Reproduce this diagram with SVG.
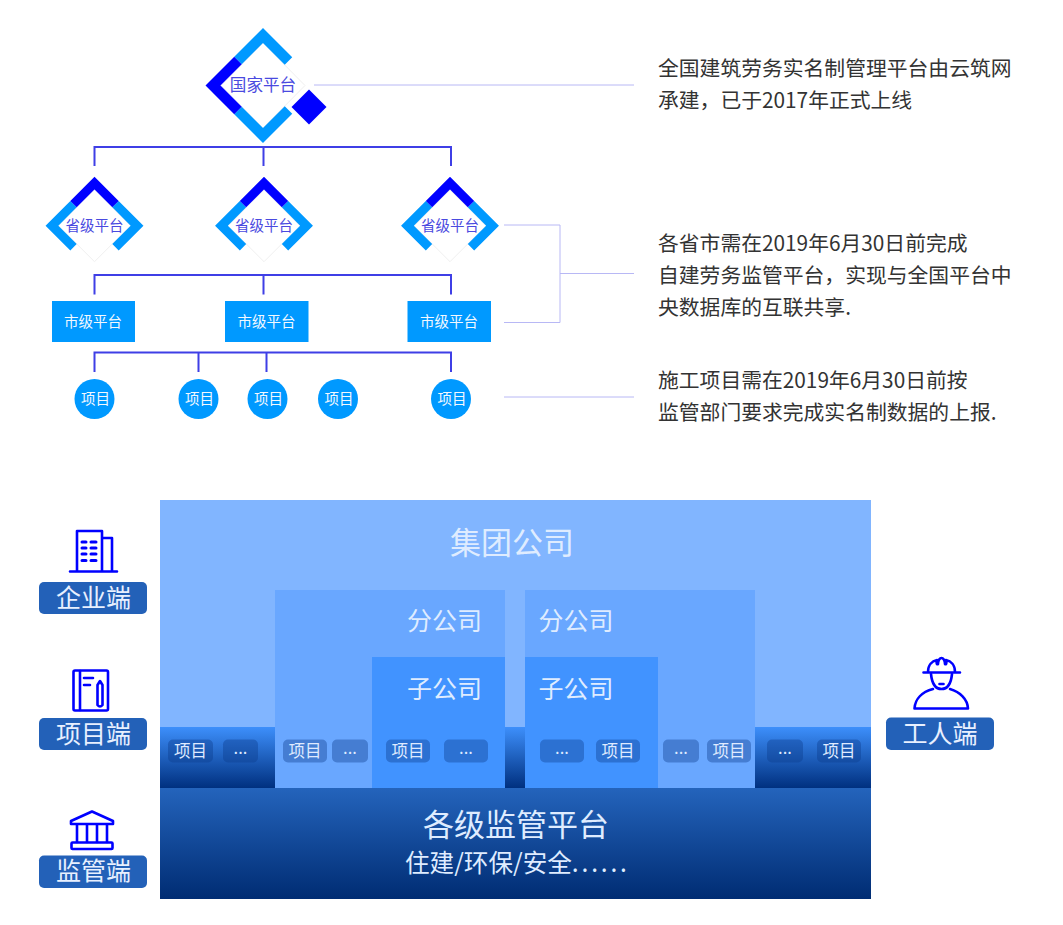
<svg xmlns="http://www.w3.org/2000/svg" width="1063" height="925" viewBox="0 0 1063 925">
<style>
text{font-family:"Noto Sans CJK SC","Noto Sans",sans-serif;text-anchor:middle}
.tree{fill:none;stroke:#3f3fe6;stroke-width:2}
.guide{fill:none;stroke:#b8b8f5;stroke-width:1}
.cy{fill:none;stroke:#0099ff}
.dk{fill:none;stroke:#0000ff}
.fnt{fill:#fff;stroke:#efefef;stroke-width:1}
.nl{fill:#4a4ae0}
.wt{fill:#f2f8ff}
.box{fill:#0099ff}
.note{fill:#333;font-size:20.800px;text-anchor:start}
.pill{fill:#0a3a8a;fill-opacity:.38}
.pt{fill:#dfeaff;font-size:16.500px}
.big{fill:#dfecff}
.lab{fill:#2361b8}
.lt{fill:#e8f0ff;font-size:25px}
.ic{fill:none;stroke:#0000ff;stroke-width:2.600;stroke-linejoin:round;stroke-linecap:round}
</style>
<defs>
<linearGradient id="band" x1="0" y1="0" x2="0" y2="1"><stop offset="0" stop-color="#3d8ffb"/><stop offset="1" stop-color="#00307f"/></linearGradient>
<linearGradient id="base" x1="0" y1="0" x2="0" y2="1"><stop offset="0" stop-color="#2464bc"/><stop offset="1" stop-color="#002c73"/></linearGradient>
</defs>
<rect width="1063" height="925" fill="#fff"/>

<g id="connectors">
<path class="tree" d="M94.500 166V147H451V166M263.500 147V166"/>
<path class="tree" d="M94.500 294.500V275H451V294.500M263.500 275V294.500"/>
<path class="tree" d="M94.500 372V352.500H451V372M198.500 352.500V372M266.500 352.500V372"/>
<path class="guide" d="M314 85H634"/>
<path class="guide" d="M504 225H560V322.500H504M560 273.500H634"/>
<path class="guide" d="M504 397H634"/>
</g>

<g id="national">
<path class="fnt" d="M263 43 305 85.500 263 128 221 85.500Z"/>
<path class="cy" stroke-width="10.600" d="M238 60.500 263 35.500 288.500 61M238 110.500 263 135.500 288.500 110"/>
<path class="dk" stroke-width="10.600" d="M238 60.500 213 85.500 238 110.500"/>
<path d="M309 89.500 326.500 107 309 124.500 291.500 107Z" fill="#0000ff"/>
<text class="nl" x="263" y="91" font-size="16.600">国家平台</text>
</g>

<g id="prov1" transform="translate(94.500 225.700)">
<path class="fnt" d="M0-36 36 0 0 36-36 0Z"/>
<path class="cy" stroke-width="9" d="M-21-21.600-42.600 0-21 21.600M21-21.600 42.600 0 21 21.600"/>
<path class="dk" stroke-width="9" d="M-21-21.600 0-42.600 21-21.600"/>
<text class="nl" y="5" font-size="14.500">省级平台</text>
</g>
<g id="prov2" transform="translate(264 225.700)">
<path class="fnt" d="M0-36 36 0 0 36-36 0Z"/>
<path class="cy" stroke-width="9" d="M-21-21.600-42.600 0-21 21.600M21-21.600 42.600 0 21 21.600"/>
<path class="dk" stroke-width="9" d="M-21-21.600 0-42.600 21-21.600"/>
<text class="nl" y="5" font-size="14.500">省级平台</text>
</g>
<g id="prov3" transform="translate(450 225.700)">
<path class="fnt" d="M0-36 36 0 0 36-36 0Z"/>
<path class="cy" stroke-width="9" d="M-21-21.600-42.600 0-21 21.600M21-21.600 42.600 0 21 21.600"/>
<path class="dk" stroke-width="9" d="M-21-21.600 0-42.600 21-21.600"/>
<text class="nl" y="5" font-size="14.500">省级平台</text>
</g>

<g id="city1"><rect class="box" x="52" y="301" width="83" height="41"/><text class="wt" x="93" y="326.500" font-size="14.500">市级平台</text></g>
<g id="city2"><rect class="box" x="225" y="301" width="83.500" height="41"/><text class="wt" x="266.500" y="326.500" font-size="14.500">市级平台</text></g>
<g id="city3"><rect class="box" x="407.500" y="301" width="83.500" height="41"/><text class="wt" x="449" y="326.500" font-size="14.500">市级平台</text></g>

<g id="proj1"><circle class="box" cx="94.500" cy="399" r="20"/><text class="wt" x="95.500" y="403.500" font-size="14.500">项目</text></g>
<g id="proj2"><circle class="box" cx="198.500" cy="399" r="20"/><text class="wt" x="199.500" y="403.500" font-size="14.500">项目</text></g>
<g id="proj3"><circle class="box" cx="267.500" cy="399" r="20"/><text class="wt" x="268.500" y="403.500" font-size="14.500">项目</text></g>
<g id="proj4"><circle class="box" cx="338" cy="399" r="20"/><text class="wt" x="339" y="403.500" font-size="14.500">项目</text></g>
<g id="proj5"><circle class="box" cx="451" cy="399" r="20"/><text class="wt" x="452" y="403.500" font-size="14.500">项目</text></g>

<g id="note1"><text class="note" x="658" y="75.500">全国建筑劳务实名制管理平台由云筑网</text><text class="note" x="658" y="107.500">承建，已于2017年正式上线</text></g>
<g id="note2"><text class="note" x="658" y="250.500">各省市需在2019年6月30日前完成</text><text class="note" x="658" y="282.500">自建劳务监管平台，实现与全国平台中</text><text class="note" x="658" y="314.500">央数据库的互联共享.</text></g>
<g id="note3"><text class="note" x="658" y="387.500">施工项目需在2019年6月30日前按</text><text class="note" x="658" y="419.500">监管部门要求完成实名制数据的上报.</text></g>

<g id="group-company">
<rect x="160" y="500" width="711" height="288" fill="#81b5ff"/>
<rect x="160" y="727" width="711" height="61" fill="url(#band)"/>
<text class="big" x="512" y="553.500" font-size="31">集团公司</text>
</g>
<g id="branch-left">
<rect x="275" y="590" width="230" height="198" fill="#69a7ff"/>
<text class="big" x="444.500" y="630" font-size="25">分公司</text>
</g>
<g id="branch-right">
<rect x="525" y="590" width="230" height="198" fill="#69a7ff"/>
<text class="big" x="576" y="630" font-size="25">分公司</text>
</g>
<g id="sub-left">
<rect x="372" y="657" width="133" height="131" fill="#4193ff"/>
<text class="big" x="444.500" y="698" font-size="25">子公司</text>
</g>
<g id="sub-right">
<rect x="525" y="657" width="133" height="131" fill="#4193ff"/>
<text class="big" x="576" y="698" font-size="25">子公司</text>
</g>
<g id="regulators">
<rect x="160" y="788" width="711" height="111" fill="url(#base)"/>
<text class="big" x="516" y="836" font-size="31">各级监管平台</text>
<text class="big" x="405" y="872" font-size="24.600" style="text-anchor:start">住建/环保/安全<tspan letter-spacing="2.800">......</tspan></text>
</g>

<g id="pills">
<rect class="pill" x="168" y="739.500" width="45" height="23" rx="5"/><text class="pt" x="190.500" y="757">项目</text>
<rect class="pill" x="223" y="739.500" width="35" height="23" rx="5"/><text class="pt" x="240.500" y="753.500">...</text>
<rect class="pill" x="283" y="739.500" width="44" height="23" rx="5"/><text class="pt" x="305" y="757">项目</text>
<rect class="pill" x="332" y="739.500" width="36" height="23" rx="5"/><text class="pt" x="350" y="753.500">...</text>
<rect class="pill" x="386" y="739.500" width="44" height="23" rx="5"/><text class="pt" x="408" y="757">项目</text>
<rect class="pill" x="444" y="739.500" width="44" height="23" rx="5"/><text class="pt" x="466" y="753.500">...</text>
<rect class="pill" x="540" y="739.500" width="44" height="23" rx="5"/><text class="pt" x="562" y="753.500">...</text>
<rect class="pill" x="596" y="739.500" width="44" height="23" rx="5"/><text class="pt" x="618" y="757">项目</text>
<rect class="pill" x="663" y="739.500" width="36" height="23" rx="5"/><text class="pt" x="681" y="753.500">...</text>
<rect class="pill" x="707" y="739.500" width="44" height="23" rx="5"/><text class="pt" x="729" y="757">项目</text>
<rect class="pill" x="767" y="739.500" width="36" height="23" rx="5"/><text class="pt" x="785" y="753.500">...</text>
<rect class="pill" x="817" y="739.500" width="44" height="23" rx="5"/><text class="pt" x="839" y="757">项目</text>
</g>

<g id="enterprise">
<path class="ic" d="M77 571V531H102V571M102 538H112V571M70 571.500H117"/>
<path class="ic" stroke-width="3" style="stroke-width:3" d="M82 542H86M91 542H96M82 548H86M91 548H96M82 554H86M91 554H96M82 560.500H86M91 560.500H96"/>
<rect class="lab" x="39" y="582" width="108" height="32" rx="5"/><text class="lt" x="93.500" y="606.500">企业端</text>
</g>
<g id="project-end">
<rect class="ic" x="73.500" y="670.500" width="34.500" height="40" rx="1.500"/>
<path class="ic" d="M80 671V710M84 678H93M84 685H90"/>
<path class="ic" d="M97.500 685 100 681 102.500 685V705Q100 708 97.500 705Z"/>
<rect class="lab" x="39" y="718" width="108" height="32" rx="5"/><text class="lt" x="93.500" y="742.500">项目端</text>
</g>
<g id="regulator-end">
<path class="ic" d="M71 821 92 811.500 113 821V824H71Z"/>
<path class="ic" d="M77 825V842M87 825V842M97 825V842M107 825V842"/>
<rect class="ic" x="71.500" y="842.500" width="41" height="6.500" rx="1"/>
<rect class="lab" x="39" y="855.500" width="108" height="32.500" rx="5"/><text class="lt" x="93.500" y="880">监管端</text>
</g>
<g id="worker-end">
<path class="ic" d="M923.500 672.500H960M928 672C928 665 932 661 937 660C936 663 937 665 938 664C938 660 940 658 941.500 658C943 658 945 660 945 664C946 665 947 663 946 660C951 661 955 665 955 672"/>
<path class="ic" d="M931 674C932 684 936 689 941.500 689C947 689 951 684 952 674"/>
<path class="ic" d="M939.500 684H943.500"/>
<path class="ic" d="M933 689C922 692 915 699 914.500 708.500H968C967.500 699 960 692 950 689"/>
<rect class="lab" x="886" y="717.500" width="108" height="32.500" rx="5"/><text class="lt" x="940" y="742.500">工人端</text>
</g>
</svg>
